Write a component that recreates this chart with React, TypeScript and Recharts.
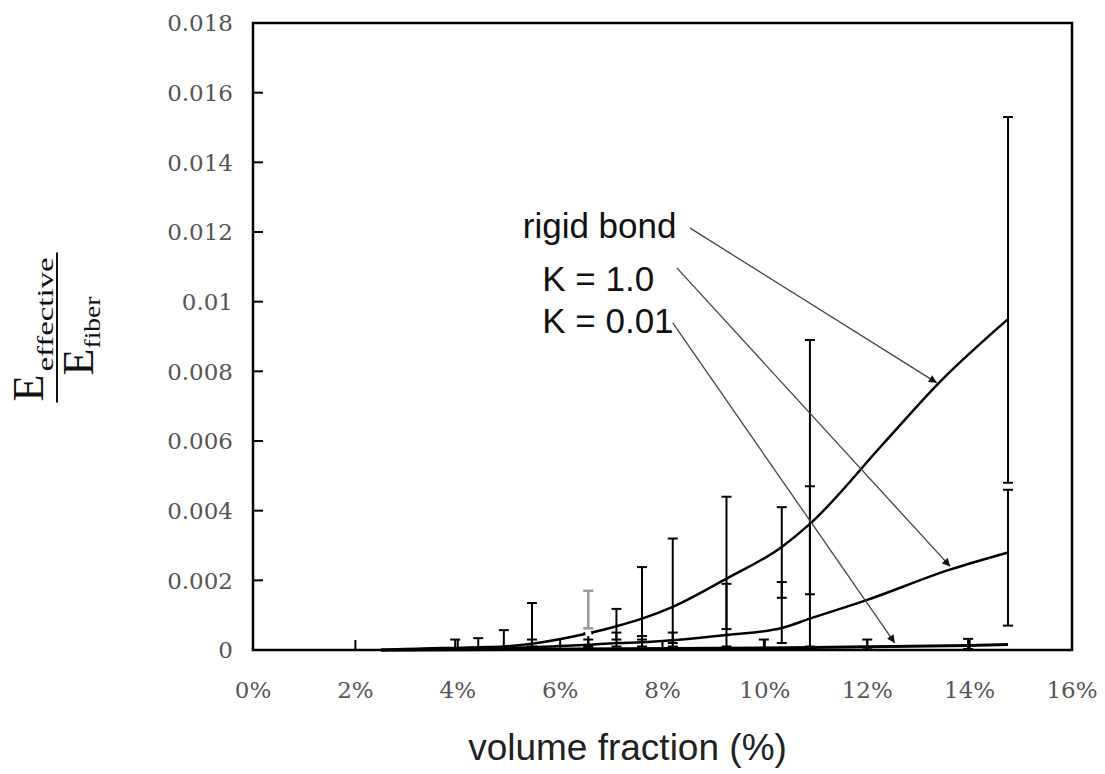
import React from "react";
import {
  ErrorBar,
  Line,
  LineChart,
  ReferenceArea,
  ReferenceDot,
  ReferenceLine,
  XAxis,
  YAxis,
} from "recharts";

// volume fraction (%) ticks and E_eff / E_fiber ticks
const xTicks = [0, 2, 4, 6, 8, 10, 12, 14, 16];
const yTicks = [0, 0.002, 0.004, 0.006, 0.008, 0.01, 0.012, 0.014, 0.016, 0.018];

// rigid bond
const rigidX = [2.5, 3.5, 3.95, 4.4, 4.9, 5.45, 6.55, 7.1, 7.6, 8.2, 9.25, 10.33, 10.88, 12.3, 13.42, 14.75];
const rigidY = [0, 0.00005, 0.00006, 0.00008, 0.0001, 0.00018, 0.00048, 0.00068, 0.0009, 0.00124, 0.00205, 0.00296, 0.00362, 0.0059, 0.0077, 0.0095];
const rigidLo = [null, null, 0.00003, 0.00004, 0.00005, 0.0001, 0.0001, 0.0003, 0.0003, 0.0002, 0.0006, 0.0015, 0.0016, null, null, 0.0048];
const rigidHi = [null, null, 0.0003, 0.00034, 0.00057, 0.00135, 0.00048, 0.00118, 0.00238, 0.0032, 0.0044, 0.0041, 0.0089, null, null, 0.0153];

// K = 1.0
const k1X = [2.5, 4.4, 5.45, 6.55, 7.1, 7.6, 8.2, 9.25, 10.33, 10.88, 12.0, 13.6, 14.75];
const k1Y = [0, 0.00003, 0.00008, 0.00015, 0.0002, 0.00022, 0.00028, 0.00043, 0.00063, 0.0009, 0.00144, 0.0023, 0.0028];
const k1Lo = [null, null, 0.00002, 0.00005, 0.0001, 0.0001, 0.0001, 0.0001, 0.0002, 0.0001, null, null, 0.0007];
const k1Hi = [null, null, 0.0003, 0.0003, 0.0005, 0.0004, 0.0005, 0.0019, 0.00195, 0.0047, null, null, 0.0046];

// K = 0.01
const k001X = [2.5, 5.45, 8.2, 9.98, 12.0, 13.97, 14.75];
const k001Y = [0, 0.00002, 0.00004, 0.00006, 0.00009, 0.00013, 0.00016];
const k001Lo = [null, null, null, 0, 0.00002, 0.00003, null];
const k001Hi = [null, null, null, 0.0003, 0.0003, 0.00032, null];

// the one grey error bar
const greyX = [6.55];
const greyY = [0.00048];
const greyLo = [0.00062];
const greyHi = [0.0017];

function rows(xs: number[], ys: number[], lo: (number | null)[], hi: (number | null)[]) {
  return xs.map((x, i) => ({
    x,
    y: ys[i],
    err: lo[i] == null || hi[i] == null ? null : [ys[i] - (lo[i] as number), (hi[i] as number) - ys[i]],
  }));
}

const rigidRows = rows(rigidX, rigidY, rigidLo, rigidHi);
const k1Rows = rows(k1X, k1Y, k1Lo, k1Hi);
const k001Rows = rows(k001X, k001Y, k001Lo, k001Hi);
const greyRows = rows(greyX, greyY, greyLo, greyHi);

const fmtY = (v: number) => (v === 0 ? "0" : String(Number(v.toFixed(3))));

const tickFont = { fontFamily: "DejaVu Serif", fontSize: 23, fill: "#555" };

function YTick({ x, y, payload }: any) {
  return (
    <text x={x} y={y} dy="0.36em" textAnchor="end" {...tickFont}>
      {fmtY(payload.value)}
    </text>
  );
}

function XTick({ x, y, payload }: any) {
  return (
    <text x={x} y={y} dy="0.71em" textAnchor="middle" {...tickFont}>
      {payload.value}%
    </text>
  );
}

function FractionLabel({ viewBox }: any) {
  const cx = viewBox.x + 57;
  const cy = viewBox.y + viewBox.height / 2 - 8;
  return (
    <g transform={`translate(${cx},${cy}) rotate(-90)`} fontFamily="Liberation Serif" fill="#111">
      <text x={-73} y={-14} fontSize={44}>E</text>
      <text x={-43} y={-4} fontSize={24} textLength={114} lengthAdjust="spacingAndGlyphs">
        effective
      </text>
      <line x1={-74} x2={76} y1={0} y2={0} stroke="#111" strokeWidth={2} />
      <text x={-47} y={36} fontSize={44}>E</text>
      <text x={-20} y={43} fontSize={24} textLength={52} lengthAdjust="spacingAndGlyphs">
        fiber
      </text>
    </g>
  );
}

function XLabel({ viewBox }: any) {
  return (
    <text
      x={viewBox.x + viewBox.width / 2 - 35}
      y={viewBox.y + 110}
      textAnchor="middle"
      fontFamily="Liberation Sans"
      fontSize={37}
      fill="#222"
    >
      volume fraction (%)
    </text>
  );
}

const noteText = (label: string) => (p: any) => (
  <text x={p.cx} y={p.cy} fontFamily="Liberation Sans" fontSize={35} fill="#111">
    {label}
  </text>
);

const arrow = (p: any) => (
  <line
    x1={p.x1}
    y1={p.y1}
    x2={p.x2}
    y2={p.y2}
    stroke="#444"
    strokeWidth={1.3}
    markerEnd="url(#arrowHead)"
  />
);

export default function App() {
  return (
    <div style={{ position: "absolute", left: 0, top: 0, background: "#fff" }}>
      <LineChart width={1105} height={774} margin={{ top: 23, right: 33, left: 0, bottom: 0 }}>
        <defs>
          <marker
            id="arrowHead"
            viewBox="0 0 10 10"
            refX="10"
            refY="5"
            markerWidth="10"
            markerHeight="8"
            markerUnits="userSpaceOnUse"
            orient="auto"
          >
            <path d="M0,0 L10,5 L0,10 z" fill="#111" />
          </marker>
        </defs>
        <XAxis
          dataKey="x"
          type="number"
          domain={[0, 16]}
          ticks={xTicks}
          interval={0}
          axisLine={false}
          tickSize={-10}
          tickMargin={42}
          tickLine={{ stroke: "#000", strokeWidth: 2 }}
          tick={<XTick />}
          height={124}
          label={{ content: XLabel }}
        />
        <YAxis
          type="number"
          domain={[0, 0.018]}
          ticks={yTicks}
          interval={0}
          axisLine={false}
          tickSize={-10}
          tickMargin={30}
          tickLine={{ stroke: "#000", strokeWidth: 2 }}
          tick={<YTick />}
          width={253}
          label={{ content: FractionLabel }}
        />
        <ReferenceArea x1={0} x2={16} y1={0} y2={0.018} fill="none" stroke="#000" strokeWidth={2.5} />

        <Line data={greyRows} dataKey="y" stroke="none" dot={false} isAnimationActive={false}>
          <ErrorBar dataKey="err" width={5} stroke="#999" strokeWidth={2.5} direction="y" />
        </Line>
        <Line data={k001Rows} dataKey="y" type="monotone" stroke="#000" strokeWidth={3} dot={false} isAnimationActive={false}>
          <ErrorBar dataKey="err" width={5} stroke="#000" strokeWidth={2} direction="y" />
        </Line>
        <Line data={k1Rows} dataKey="y" type="monotone" stroke="#000" strokeWidth={2.5} dot={false} isAnimationActive={false}>
          <ErrorBar dataKey="err" width={5} stroke="#000" strokeWidth={2} direction="y" />
        </Line>
        <Line data={rigidRows} dataKey="y" type="monotone" stroke="#000" strokeWidth={2.5} dot={false} isAnimationActive={false}>
          <ErrorBar dataKey="err" width={5} stroke="#000" strokeWidth={2} direction="y" />
        </Line>

        <ReferenceLine segment={[{ x: 8.54, y: 0.01211 }, { x: 13.36, y: 0.00767 }]} shape={arrow} ifOverflow="visible" />
        <ReferenceLine segment={[{ x: 8.28, y: 0.01097 }, { x: 13.62, y: 0.0024 }]} shape={arrow} ifOverflow="visible" />
        <ReferenceLine segment={[{ x: 8.2, y: 0.00939 }, { x: 12.54, y: 0.0002 }]} shape={arrow} ifOverflow="visible" />

        <ReferenceDot x={5.27} y={0.01183} r={0} shape={noteText("rigid bond")} />
        <ReferenceDot x={5.65} y={0.01031} r={0} shape={noteText("K = 1.0")} />
        <ReferenceDot x={5.65} y={0.0091} r={0} shape={noteText("K = 0.01")} />
      </LineChart>
    </div>
  );
}
